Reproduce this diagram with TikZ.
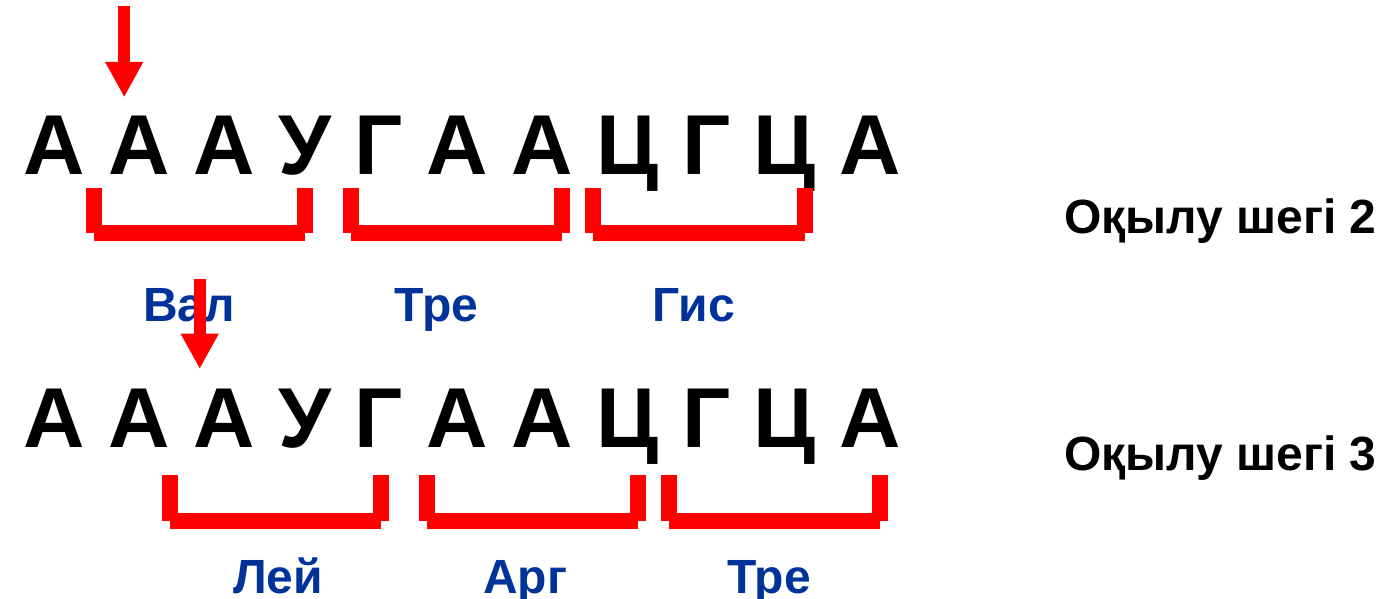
\documentclass[tikz,border=0pt]{standalone}
\usepackage{fontspec}
\setmainfont{Liberation Sans}
\usetikzlibrary{arrows.meta}
\definecolor{aablue}{RGB}{0,51,153}
\definecolor{aared}{RGB}{255,0,0}
\newcommand\codonbr[5]{%
  \coordinate (#1l) at (#2,#4);
  \coordinate (#1lb) at (#2,#5);
  \coordinate (#1rb) at (#3,#5);
  \coordinate (#1r) at (#3,#4);
  \draw[brk] (#1l) -- (#1lb);
  \draw[brk] (#1lb) -- (#1rb);
  \draw[brk] (#1rb) -- (#1r);
}
\begin{document}
\begin{tikzpicture}[x=1pt,y=-1pt,
  seq/.style={anchor=base west,inner sep=0pt,font=\fontsize{85}{100}\selectfont\bfseries},
  amino/.style={anchor=base,inner sep=0pt,text=aablue,font=\fontsize{48}{58}\selectfont\bfseries},
  frame/.style={anchor=base west,inner sep=0pt,font=\fontsize{48}{57}\selectfont\bfseries},
  brk/.style={draw=aared,line width=16pt,line cap=butt},
  pointer/.style={draw=aared,line width=12.3pt,-{Triangle[length=35.5pt,width=35.6pt]}}]
\useasboundingbox (0,0) rectangle (1384,598);
% row 1
\node[seq] (seq1) at (23,174) {А А А У Г А А Ц Г Ц А};
\coordinate (p1s) at (124.2,6);
\coordinate (p1e) at (124.2,97.3);
\draw[pointer] (p1s) -- (p1e);
\codonbr{b11}{94}{305.3}{188}{233}
\codonbr{b12}{351}{562}{188}{233}
\codonbr{b13}{593}{804.5}{188}{233}
\node[amino] (a11) at (189,321.5) {Вал};
\node[amino] (a12) at (436.7,321.5) {Тре};
\node[amino] (a13) at (693.7,321.5) {Гис};
\node[frame] (f2) at (1064,233) {Оқылу шегі 2};
% row 2
\node[seq] (seq2) at (23,447.7) {А А А У Г А А Ц Г Ц А};
\coordinate (p2s) at (199.7,279);
\coordinate (p2e) at (199.7,369);
\draw[pointer] (p2s) -- (p2e);
\codonbr{b21}{169.7}{381}{475}{520.5}
\codonbr{b22}{427}{638.3}{475}{520.5}
\codonbr{b23}{669}{880}{475}{520.5}
\node[amino] (a21) at (278,593.3) {Лей};
\node[amino] (a22) at (525,593.3) {Арг};
\node[amino] (a23) at (769,593.3) {Тре};
\node[frame] (f3) at (1064,470) {Оқылу шегі 3};
\end{tikzpicture}
\end{document}
